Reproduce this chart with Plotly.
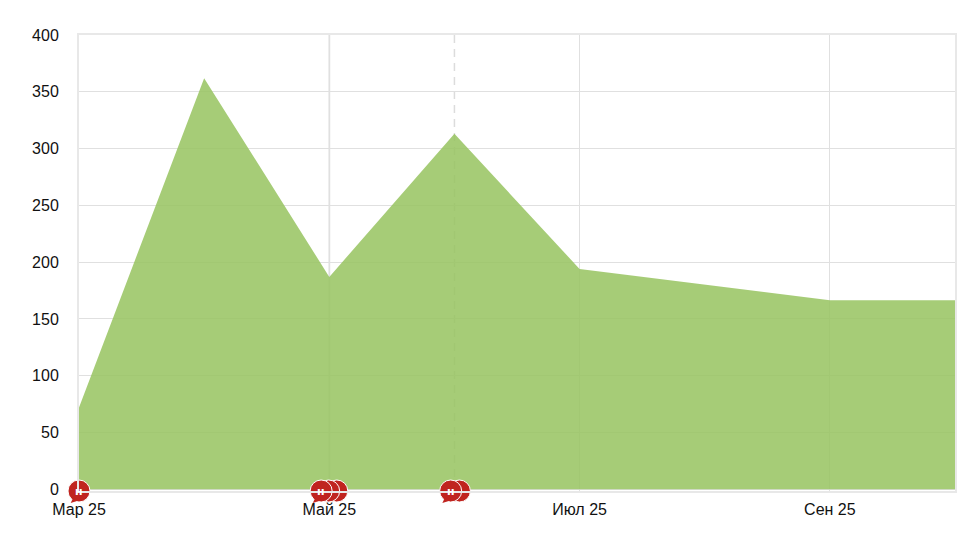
import plotly.graph_objects as go

months = ["Мар 25", "Апр 25", "Май 25", "Июн 25", "Июл 25", "Авг 25", "Сен 25", "Окт 25"]
values = [72, 362, 187, 313, 194, 180, 166.5, 166.5]
tick_positions = [0, 2, 4, 6]
tick_labels = ["Мар 25", "Май 25", "Июл 25", "Сен 25"]
y_ticks = [0, 50, 100, 150, 200, 250, 300, 350, 400]

# news flags: back to front
flag_x = [2.06, 1.995, 1.935, 3.04, 2.97, 0.0]
front_flag_x = [0.0, 1.935, 2.97]
flag_label = "н"
flag_y = -1.5

GRID = "#e0e0e0"
FRAME = "#e8e8e8"
RED = "#c0241f"

x = list(range(len(months)))
fig = go.Figure()
fig.add_trace(go.Scatter(
    x=x, y=values, mode="lines", line=dict(width=0, color="rgba(150,195,95,0.85)"),
    fill="tozeroy", fillcolor="rgba(150,195,95,0.85)", hoverinfo="skip", showlegend=False,
))
fig.add_trace(go.Scatter(
    x=flag_x, y=[flag_y] * len(flag_x), mode="markers",
    marker=dict(size=22, color=RED, line=dict(width=1, color="white")),
    cliponaxis=False, hoverinfo="skip", showlegend=False,
))

shapes = [
    dict(type="line", x0=3, x1=3, y0=0, y1=1, xref="x", yref="paper",
         line=dict(color="#dcdcdc", width=1.5, dash="8px,6px"), layer="below"),
    dict(type="line", x0=2, x1=2, y0=0, y1=1, xref="x", yref="paper",
         line=dict(color=FRAME, width=2), layer="below"),
]
annotations = []
for tx in front_flag_x:
    shapes.append(dict(
        type="path", xref="x domain", yref="y domain", xsizemode="pixel", ysizemode="pixel",
        xanchor=tx / 7, yanchor=0, path="M -5.5 -6 L -8.3 -12 L -0.5 -9.5 Z",
        fillcolor=RED, line=dict(width=0), layer="above",
    ))
    annotations.append(dict(
        x=tx, y=flag_y, xref="x", yref="y", text=flag_label, showarrow=False,
        font=dict(family="DejaVu Sans", size=11, color="white", weight="bold"),
        xanchor="center", yanchor="middle",
    ))

fig.update_layout(
    width=980, height=538, autosize=False,
    margin=dict(l=78.5, r=25, t=35, b=47.3, pad=0),
    paper_bgcolor="white", plot_bgcolor="white",
    font=dict(family="Liberation Sans", size=16, color="#111111"),
    shapes=shapes, annotations=annotations,
    xaxis=dict(range=[0, 7], tickmode="array", tickvals=tick_positions, ticktext=tick_labels,
               showgrid=True, gridcolor=GRID, gridwidth=1, zeroline=False,
               showline=True, linecolor=FRAME, linewidth=2, mirror=True,
               ticks="outside", ticklen=2.5, tickcolor="rgba(0,0,0,0)", tickangle=0),
    yaxis=dict(range=[-1.5, 400], tickmode="array", tickvals=y_ticks,
               showgrid=True, gridcolor=GRID, gridwidth=1, zeroline=False,
               showline=True, linecolor=FRAME, linewidth=2, mirror=True,
               ticks="outside", ticklen=15, tickcolor="rgba(0,0,0,0)"),
)
fig.write_html("out.html", config=dict(displayModeBar=False),
               post_script="document.body.style.margin='0';")
